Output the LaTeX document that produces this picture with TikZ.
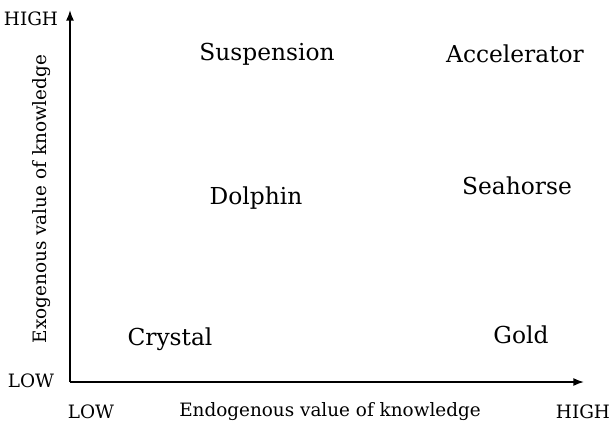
\documentclass[tikz,border=0pt]{standalone}
\usepackage{fontspec}
\setmainfont{DejaVu Serif}
\usetikzlibrary{arrows.meta}
\tikzset{
	quadword/.style={font=\fontsize{17.5}{20}\selectfont},
	axislabel/.style={font=\fontsize{13.8}{16}\selectfont},
	axisline/.style={line width=1.2pt,-{Latex[length=8pt,width=6pt]}}
}
\begin{document}
\begin{tikzpicture}[x=0.75pt,y=-0.75pt]
				\useasboundingbox (0,0) rectangle (609,429);
				\coordinate (o) at (70,382);
				\coordinate (ytop) at (70,10);
				\coordinate (xend) at (584,382);

				\path[axisline,draw] (o) -- (ytop);
				\path[axisline,draw] (o) -- (xend);

				\node[axislabel] (yhigh) at (31,19) {HIGH};
				\node[axislabel] (ylow) at (31,381) {LOW};
				\node[axislabel] (xlow) at (91,412) {LOW};
				\node[axislabel] (xhigh) at (583,412) {HIGH};
				\node[axislabel] (xname) at (330,412) {Endogenous value of knowledge};
				\node[axislabel,rotate=90] (yname) at (42,199) {Exogenous value of knowledge};

				\node[quadword] (susp) at (267,54) {Suspension};
				\node[quadword] (accel) at (515,54) {Accelerator};
				\node[quadword] (dolph) at (256,198) {Dolphin};
				\node[quadword] (seah) at (517,186) {Seahorse};
				\node[quadword] (cryst) at (170,339) {Crystal};
				\node[quadword] (gold) at (521,335) {Gold};
			\end{tikzpicture}
\end{document}
